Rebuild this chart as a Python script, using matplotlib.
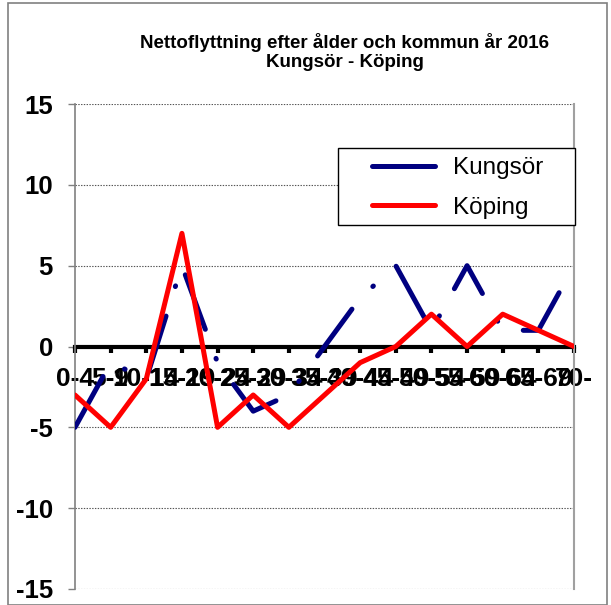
import matplotlib
matplotlib.use("Agg")
import matplotlib.pyplot as plt
from matplotlib.lines import Line2D
from matplotlib.patches import Rectangle

plt.rcParams['font.family'] = ['Liberation Sans', 'DejaVu Sans']
plt.rcParams['lines.scale_dashes'] = False

categories = ["0-4", "5-9", "10-14", "15-19", "20-24", "25-29", "30-34", "35-39",
              "40-44", "45-49", "50-54", "55-59", "60-64", "65-69", "70-"]
kungsor = [-5, -1, -2, 5, -1, -4, -3, 0, 3, 5, 1, 5, 1, 1, 5]
koping = [-3, -5, -2, 7, -5, -3, -5, -3, -1, 0, 2, 0, 2, 1, 0]
title = "Nettoflyttning efter ålder och kommun år 2016\nKungsör - Köping"
yticks = [-15, -10, -5, 0, 5, 10, 15]

W, H = 611, 605
fig = plt.figure(figsize=(W / 100, H / 100), dpi=100)
ax = fig.add_axes([75 / W, (H - 589) / H, (574 - 75) / W, (589 - 104) / H])

ax.spines['bottom'].set_position(('data', 0))
ax.spines['bottom'].set_linewidth(3)
ax.spines['bottom'].set_color('black')
ax.spines['bottom'].set_zorder(2)
ax.spines['top'].set_visible(False)
ax.spines['left'].set_color('#808080')
ax.spines['left'].set_linewidth(1.2)
ax.spines['right'].set_color('#a0a0a0')
ax.spines['right'].set_linewidth(1.5)

x = list(range(len(categories)))
lw = 3.6
l1, = ax.plot(x, kungsor, color='#000080', lw=lw, solid_capstyle='round',
              dash_capstyle='round', solid_joinstyle='round', dash_joinstyle='round', zorder=3)
l1.set_dashes((41.8, 22.3, 0.5, 22.3))
ax.plot(x, koping, color='#FF0000', lw=lw, solid_capstyle='round',
        solid_joinstyle='round', zorder=4)

ax.set_xlim(0, len(categories) - 1)
ax.set_ylim(-15, 15)
ax.set_yticks(yticks)
ax.set_xticks(x)
ax.tick_params(axis='x', direction='out', length=4.5, width=3, color='black', pad=10,
               labelsize=19)
ax.tick_params(axis='y', direction='out', length=5, width=1, color='#808080', pad=11,
               labelsize=18.5)
ax.set_yticklabels([str(v) for v in yticks], fontsize=18.5, fontweight='bold')
ax.set_xticklabels(categories, fontsize=19, fontweight='bold')

for v in yticks:
    if v != 0:
        ax.axhline(v, color='#555555', lw=0.8, ls=(0, (1, 1)), zorder=1)

fig.text(345 / W, 1 - 52 / H, title, ha='center', va='center', fontsize=13.5,
         fontweight='bold', linespacing=1.1)

# legend box
fig.patches.append(Rectangle((338 / W, 1 - 225 / H), (575 - 338) / W, (225 - 148) / H,
                             transform=fig.transFigure, facecolor='white',
                             edgecolor='black', lw=1, zorder=5))
handles = [Line2D([], [], color='#000080', lw=lw, solid_capstyle='round'),
           Line2D([], [], color='#FF0000', lw=lw, solid_capstyle='round')]
leg = fig.legend(handles, ["Kungsör", "Köping"], loc='upper left',
                 bbox_to_anchor=(372 / W, 1 - 157 / H), bbox_transform=fig.transFigure,
                 frameon=False, fontsize=17.5, handlelength=2.6, handletextpad=0.72,
                 borderpad=0, borderaxespad=0, labelspacing=0.72)
leg.set_zorder(6)

# chart area border
fig.patches.append(Rectangle((8 / W, 0), (607 - 8) / W, 1 - 3 / H, transform=fig.transFigure,
                             facecolor='none', edgecolor='#808080', lw=1.2, zorder=0))

fig.savefig("out.png", dpi=100)
